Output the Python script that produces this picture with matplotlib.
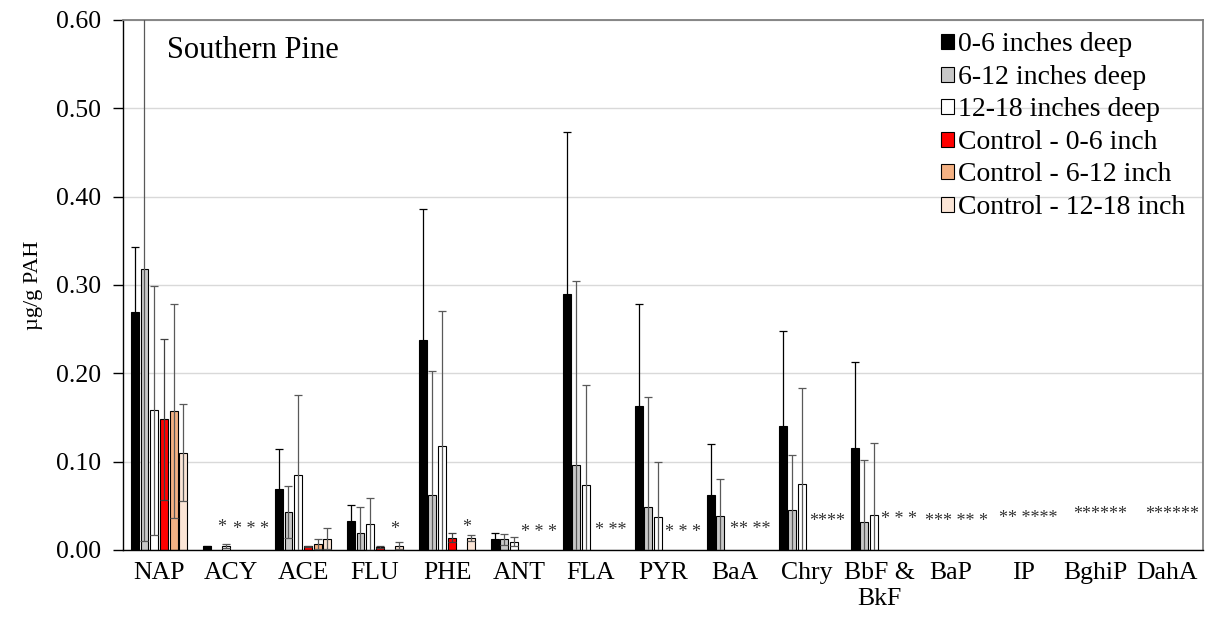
import numpy as np
import matplotlib
matplotlib.use("Agg")
import matplotlib.pyplot as plt

plt.rcParams['font.family'] = ['Liberation Serif', 'DejaVu Serif']

# PAH compounds on the x axis
compounds = ["NAP", "ACY", "ACE", "FLU", "PHE", "ANT", "FLA", "PYR", "BaA",
             "Chry", "BbF &\nBkF", "BaP", "IP", "BghiP", "DahA"]

series = ["0-6 inches deep", "6-12 inches deep", "12-18 inches deep",
          "Control - 0-6 inch", "Control - 6-12 inch", "Control - 12-18 inch"]

nan = np.nan
# mean concentration (ug/g), nan = not detected
d_0_6 = [0.269, 0.004, 0.069, 0.033, 0.238, 0.013, 0.290, 0.163, 0.062, 0.140, 0.115, nan, nan, nan, nan]
d_6_12 = [0.318, nan, 0.043, 0.019, 0.062, 0.012, 0.096, 0.0485, 0.038, 0.045, 0.032, nan, nan, nan, nan]
d_12_18 = [0.158, 0.0045, 0.085, 0.029, 0.118, 0.0093, 0.074, 0.0375, nan, 0.075, 0.040, nan, nan, nan, nan]
c_0_6 = [0.148, nan, 0.004, 0.003, 0.014, nan, nan, nan, nan, nan, nan, nan, nan, nan, nan]
c_6_12 = [0.157, nan, 0.007, nan, nan, nan, nan, nan, nan, nan, nan, nan, nan, nan, nan]
c_12_18 = [0.110, nan, 0.013, 0.005, 0.014, nan, nan, nan, nan, nan, nan, nan, nan, nan, nan]

# standard deviations
e_0_6 = [0.074, 0.001, 0.045, 0.018, 0.148, 0.0065, 0.183, 0.116, 0.0585, 0.108, 0.098, nan, nan, nan, nan]
e_6_12 = [0.308, nan, 0.029, 0.030, 0.141, 0.0066, 0.208, 0.125, 0.042, 0.063, 0.070, nan, nan, nan, nan]
e_12_18 = [0.141, 0.0025, 0.091, 0.030, 0.153, 0.005, 0.113, 0.0625, nan, 0.108, 0.081, nan, nan, nan, nan]
ec_0_6 = [0.091, nan, 0.001, 0.001, 0.005, nan, nan, nan, nan, nan, nan, nan, nan, nan, nan]
ec_6_12 = [0.121, nan, 0.006, nan, nan, nan, nan, nan, nan, nan, nan, nan, nan, nan, nan]
ec_12_18 = [0.055, nan, 0.012, 0.004, 0.0035, nan, nan, nan, nan, nan, nan, nan, nan, nan, nan]

means = [d_0_6, d_6_12, d_12_18, c_0_6, c_6_12, c_12_18]
errs = [e_0_6, e_6_12, e_12_18, ec_0_6, ec_6_12, ec_12_18]

# non-detect markers: (compound index, first missing series, last missing series, label, height)
nd_marks = [(1, 1, 1, "*", 0.032), (1, 3, 5, "* * *", 0.030),
            (3, 4, 4, "*", 0.029), (4, 4, 4, "*", 0.032),
            (5, 3, 5, "* * *", 0.026), (6, 3, 5, "* **", 0.028),
            (7, 3, 5, "* * *", 0.026), (8, 2, 5, "** **", 0.029),
            (9, 3, 5, "****", 0.039), (10, 3, 5, "* * *", 0.041),
            (11, 0, 5, "*** ** *", 0.039), (12, 0, 5, "** ****", 0.042),
            (13, 0, 5, "******", 0.046), (14, 0, 5, "******", 0.047)]

fills = ["#000000", "#C8C8C8", "#FFFFFF", "#FF0000", "#F4B183", "#FBE5D6"]
err_cols = ["#000000", "#595959", "#595959", "#404040", "#595959", "#595959"]

fig, ax = plt.subplots(figsize=(12.1, 6.23), dpi=100)
fig.subplots_adjust(left=0.1017, right=0.9942, top=0.968, bottom=0.1172)

x = np.arange(len(compounds))
step = 0.135
width = 0.11

for i in range(len(series)):
    xs = x + (i - 2.5) * step
    ax.bar(xs, means[i], width, color=fills[i], edgecolor="#000000",
           linewidth=0.8, label=series[i], zorder=2)
    ax.errorbar(xs, means[i], yerr=errs[i], fmt="none", ecolor=err_cols[i],
                elinewidth=0.9, capsize=2.6, capthick=0.9, zorder=3)

# asterisk glyph sits high in the em box, so drop the baseline to centre it on h
star_size = 13
for g, s0, s1, txt, h in nd_marks:
    xc = g + ((s0 + s1) / 2 - 2.5) * step + 0.07
    ax.annotate(txt, (xc, h), xytext=(0, -0.56 * star_size),
                textcoords="offset points", ha="center", va="baseline",
                fontsize=star_size, color="#333333", zorder=4)

ax.set_xlim(-0.5, len(compounds) - 0.5)
ax.set_ylim(0, 0.60)
ax.set_yticks(np.arange(0, 0.61, 0.1))
ax.set_yticklabels(["%.2f" % v for v in np.arange(0, 0.61, 0.1)])
ax.set_xticks(x)
ax.set_xticklabels(compounds)
ax.tick_params(axis="x", length=0, labelsize=18.5, pad=9)
ax.tick_params(axis="y", length=7, width=1, labelsize=18.5, pad=9, direction="out")
ax.set_ylabel("µg/g PAH", fontsize=16, labelpad=9)

ax.yaxis.grid(True, color="#D9D9D9", linewidth=1.0, zorder=0)
ax.set_axisbelow(True)

for side in ["left", "bottom"]:
    ax.spines[side].set_color("#000000")
    ax.spines[side].set_linewidth(1.0)
for side in ["top", "right"]:
    ax.spines[side].set_color("#7F7F7F")
    ax.spines[side].set_linewidth(1.3)

ax.text(0.041, 0.97, "Southern Pine", transform=ax.transAxes,
        fontsize=22, va="top", ha="left")

ax.legend(loc="upper right", bbox_to_anchor=(0.995, 1.0), frameon=False,
          fontsize=20, handlelength=0.45, handleheight=0.45,
          handletextpad=0.15, labelspacing=0.27, borderaxespad=0.05)

fig.savefig("out.png", dpi=100)
